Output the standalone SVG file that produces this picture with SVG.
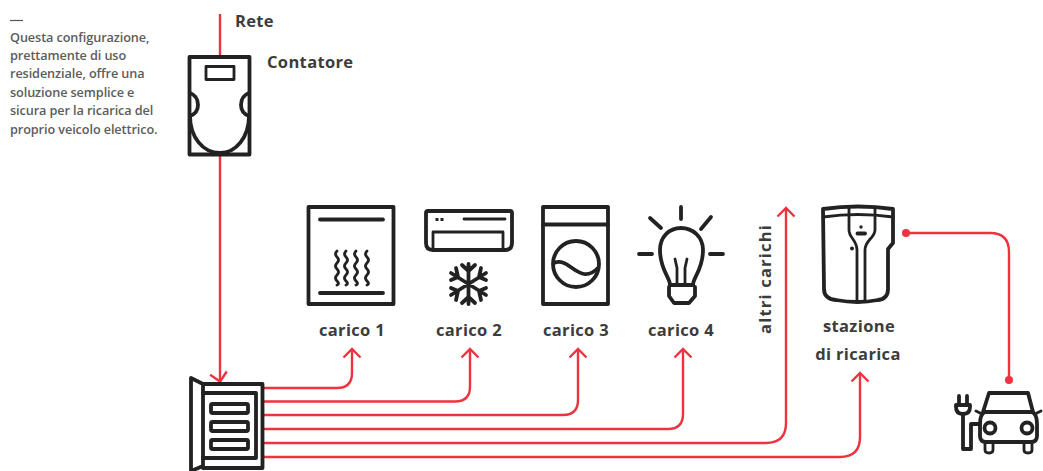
<svg xmlns="http://www.w3.org/2000/svg" width="1043" height="471" viewBox="0 0 1043 471">
<defs>
<marker id="ah" markerUnits="userSpaceOnUse" markerWidth="14" markerHeight="22" refX="0" refY="0" orient="auto" viewBox="-12 -11 14 22"><path d="M-8.500 -8.500L0 0L-8.500 8.500" fill="none" stroke="#ee3340" stroke-width="2.400"/></marker>
<style>
.r{fill:none;stroke:#ee3340;stroke-width:2.400}
.k{fill:none;stroke:#222;stroke-width:3.800;stroke-linejoin:round;stroke-linecap:round}
.t{stroke-width:2.800}
text{font-family:"Open Sans","Liberation Sans",sans-serif;fill:#3c3c3c}
.l{font-size:16.500px;font-weight:700;letter-spacing:.35px}
.c{text-anchor:middle}
.n{font-size:12.700px;fill:#5c5c5c;font-weight:600;letter-spacing:-.1px}
</style>
</defs>
<g id="connectors">
<path class="r" d="M220 14V57"/>
<path class="r" d="M220 155V381"/>
<path class="r" d="M220 381L220.100 381.500" marker-end="url(#ah)"/>
<path class="r" d="M263 388H337Q352 388 352 373V349" marker-end="url(#ah)"/>
<path class="r" d="M263 401.500H455Q470 401.500 470 386.500V349" marker-end="url(#ah)"/>
<path class="r" d="M263 415H563Q578 415 578 400V349" marker-end="url(#ah)"/>
<path class="r" d="M263 429H668Q683 429 683 414V349" marker-end="url(#ah)"/>
<path class="r" d="M263 443H766Q786 443 786 423V208" marker-end="url(#ah)"/>
<path class="r" d="M263 457H840Q860 457 860 437V373" marker-end="url(#ah)"/>
<path class="r" d="M906 233H990Q1009 233 1009 252V380"/>
<circle cx="906" cy="233" r="4" fill="#ee3340"/>
<circle cx="1009" cy="380" r="4" fill="#ee3340"/>
</g>
<g id="note">
<path d="M10 20.500H23" stroke="#555" stroke-width="1.200"/>
<text class="n" x="10" y="42">Questa configurazione,</text>
<text class="n" x="10" y="60">prettamente di uso</text>
<text class="n" x="10" y="78">residenziale, offre una</text>
<text class="n" x="10" y="97">soluzione semplice e</text>
<text class="n" x="10" y="115">sicura per la ricarica del</text>
<text class="n" x="10" y="134">proprio veicolo elettrico.</text>
</g>
<g id="rete"><text class="l" x="235" y="27">Rete</text></g>
<g id="contatore">
<rect class="k" x="189.500" y="57" width="60" height="97.500"/>
<rect class="k t" x="206" y="66.500" width="28" height="13"/>
<path class="k" d="M190 93Q198 96 198 105Q198 113 190 116"/>
<path class="k" d="M249 93Q241 96 241 105Q241 113 249 116"/>
<path class="k" d="M190 116C190 137 203 153 220 153C236 153 249 137 249 116"/>
<text class="l" x="267" y="68">Contatore</text>
</g>
<g id="quadro">
<path class="k" d="M191 378L203 384V466L191 471Z"/>
<path class="k" d="M203 384H262.500V468H203"/>
<path class="k" d="M203 393H256V458H203"/>
<rect class="k" x="211" y="404" width="37" height="9" rx="1.500"/>
<rect class="k" x="211" y="422" width="37" height="9" rx="1.500"/>
<rect class="k" x="211" y="440" width="37" height="9" rx="1.500"/>
</g>
<g id="carico1">
<rect class="k" x="308.500" y="207" width="85" height="97"/>
<path class="k" d="M320 219.500H383M320 293H383"/>
<path class="k t" d="M337 251q-3 3 0 6t0 6t0 6t0 6t0 6t0 4M346 251q-3 3 0 6t0 6t0 6t0 6t0 6t0 4M356 251q-3 3 0 6t0 6t0 6t0 6t0 6t0 4M367 251q-3 3 0 6t0 6t0 6t0 6t0 6t0 4"/>
<text class="l c" x="352" y="336">carico 1</text>
</g>
<g id="carico2">
<path class="k" d="M426 213Q426 211 428 211H510Q512 211 512 213V243Q512 250 505 250H433Q426 250 426 243Z"/>
<path class="k t" d="M433 250V232H503V250"/>
<path class="k t" d="M464 219H505"/>
<path d="M435.500 219.500h3M440.500 219.500h3" stroke="#222" stroke-width="3.200"/>
<path class="k" d="M468.500 264V304M451 273L486 295M451 295L486 273M462 265L468.500 271L475 265M462 303L468.500 297L475 303M451 280L458 277L456 268M486 280L479 277L481 268M451 288L458 291L456 300M486 288L479 291L481 300"/>
<text class="l c" x="469" y="336">carico 2</text>
</g>
<g id="carico3">
<rect class="k" x="543" y="207" width="65" height="97"/>
<path class="k" d="M543 224.500H608"/>
<circle class="k" cx="576" cy="264" r="23"/>
<path class="k" d="M554 263C566 258 572 272 584 274C590 275 595 271 598 268"/>
<text class="l c" x="576" y="336">carico 3</text>
</g>
<g id="carico4">
<path class="k" d="M670 285C670 277 660 270 660 250C660 237 669 228 681 228C693 228 703 237 703 250C703 270 693 277 693 285Z"/>
<path class="k t" d="M677 285V268L675 259M685 285V268L687 259"/>
<path class="k" d="M669 287V296L674 303H689L695 296V287"/>
<path class="k" d="M681 207V219M650 218L661 228M711 217L701 229M639 254H652M710 254H723"/>
<text class="l c" x="681" y="336">carico 4</text>
</g>
<g id="altri"><text class="l c" style="letter-spacing:1.200px" transform="translate(771 279) rotate(-90)" x="0" y="0">altri carichi</text></g>
<g id="stazione">
<path class="k" d="M823 209Q858 204 893 209V243L888 249V289Q888 299 878 300Q858 304 836 300Q824 299 824 289Z"/>
<path class="k t" d="M823 217Q858 212 893 217"/>
<path class="k t" d="M849 208V230C849 238 857 240 857 250V301M875 208V230C875 238 865 240 865 250V301"/>
<path class="k" d="M857.500 233.500H865"/>
<circle cx="852" cy="248.500" r="2" fill="#222"/>
<circle cx="861" cy="227" r="1.700" fill="#222"/>
<text class="l c" x="859" y="332">stazione</text>
<text class="l c" x="858" y="360">di ricarica</text>
</g>
<g id="auto">
<path class="k" d="M983 412L989 393H1028L1033 412"/>
<path class="k" d="M985 412H1032Q1037 414 1037 424V436Q1037 442 1031 442H986Q980 442 980 436V424Q980 414 985 412Z"/>
<path class="k t" d="M976 411L982 414M1041 411L1035 414"/>
<circle class="k" cx="990" cy="428" r="5.500"/>
<circle class="k" cx="1027" cy="428" r="5.500"/>
<path class="k t" d="M985 444V450Q985 453 989 453Q993 453 993 450V444M1024 444V450Q1024 453 1028 453Q1032 453 1032 450V444"/>
<path class="k" d="M956 405V407Q956 414 963 414Q970 414 970 407V405H956M959 396V405M967 396V405"/>
<path class="k" d="M963 414V449H971V424H980"/>
</g>
</svg>
